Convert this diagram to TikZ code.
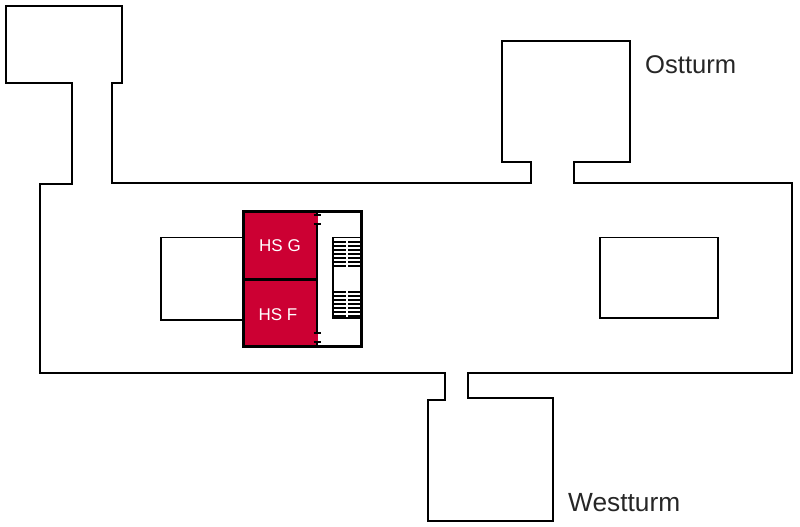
\documentclass[tikz,border=0pt]{standalone}
\usepackage{fontspec}
\setmainfont{Liberation Sans}
\definecolor{hsred}{RGB}{204,0,51}
\tikzset{
  plan/.style={draw=black,line width=1.5pt,line join=miter},
  heavy/.style={draw=black,line width=3pt},
  hall/.style={fill=hsred,draw=none},
  tower/.style={font=\fontsize{25.6}{26}\selectfont,text=black!85,inner sep=0pt,anchor=west},
  towerwide/.style={tower,font=\fontsize{26.3}{27}\selectfont},
  hslabel/.style={font=\fontsize{17}{17}\selectfont,text=white,inner sep=0pt},
  tread/.style={draw=black,line width=1.6pt}
}
\begin{document}
\begin{tikzpicture}[x=1pt,y=-1pt]
\useasboundingbox (0,0) rectangle (800,527);
\draw[plan] (6,6) -- (122,6) -- (122,83) -- (112,83) -- (112,183) -- (531,183) -- (531,162) -- (502,162) -- (502,41) -- (630,41) -- (630,162) -- (574,162) -- (574,183) -- (792,183) -- (792,373) -- (468,373) -- (468,398) -- (553,398) -- (553,521) -- (428,521) -- (428,400) -- (445,400) -- (445,373) -- (40,373) -- (40,184) -- (72,184) -- (72,83) -- (6,83) -- cycle;
\draw[plan] (243,237.5) -- (161,237.5) -- (161,320) -- (243,320);
\draw[plan] (600,237.5) rectangle (718,318);
\fill[hall] (243,211) rectangle (318,346);
\draw[heavy] (243,279) -- (317,279);
\draw[line width=2.2pt] (317,224) -- (317,333);
\draw[line width=2.2pt] (317,211) -- (317,215);
\draw[line width=2.2pt] (317,342) -- (317,346);
\draw[line width=1.5pt] (313.5,215) -- (320.5,215) (313.5,224) -- (320.5,224) (313.5,333) -- (320.5,333) (313.5,342) -- (320.5,342);
\draw[heavy] (243,211) rectangle (361,346);
\foreach \yy in {242,246,250,254,258,262,266,292,296,300,304,308,312,316}{
  \draw[tread] (333,\yy) -- (360,\yy);
}
\draw[draw=white,line width=2pt] (347,238.5) -- (347,267) (347,291) -- (347,317);
\draw[plan] (361,237.5) -- (333,237.5) -- (333,318) -- (361,318);
\node[hslabel] (hsg) at (280,245.5) {HS G};
\node[hslabel] (hsf) at (278,314.5) {HS F};
\node[tower] (ost) at (645,65) {Ostturm};
\node[towerwide] (west) at (568,503) {Westturm};
\end{tikzpicture}
\end{document}
